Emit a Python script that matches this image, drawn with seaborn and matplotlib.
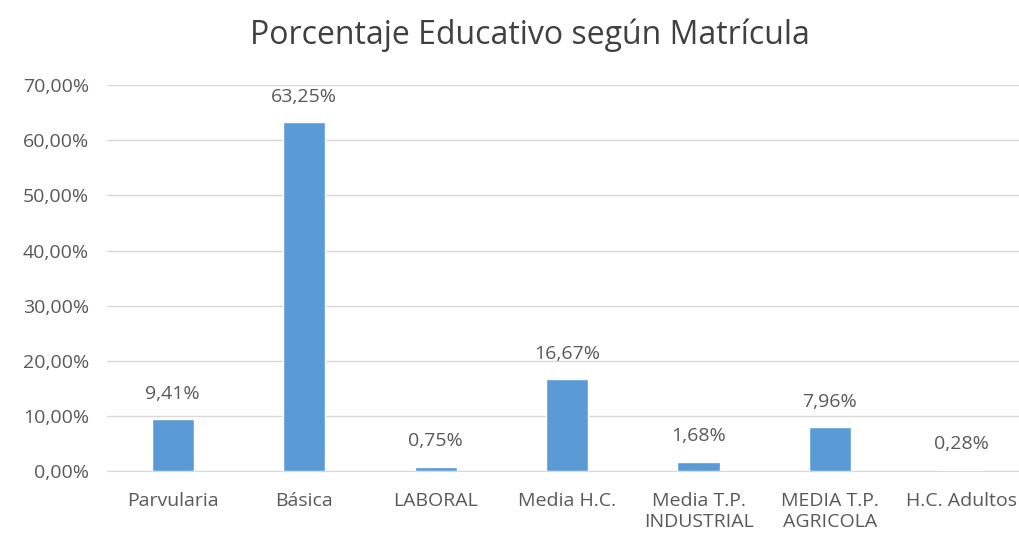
import pandas as pd
import matplotlib.pyplot as plt
import seaborn as sns
from matplotlib.ticker import FuncFormatter

categorias = ["Parvularia", "Básica", "LABORAL", "Media H.C.",
              "Media T.P.\nINDUSTRIAL", "MEDIA T.P.\nAGRICOLA", "H.C. Adultos"]
porcentajes = [9.41, 63.25, 0.75, 16.67, 1.68, 7.96, 0.28]

data = pd.DataFrame({"cat": categorias, "pct": porcentajes})

sns.set_style("white")
plt.rcParams['font.family'] = ['Open Sans', 'DejaVu Sans']
gris = "#595959"

f = plt.figure(figsize=(10.19, 5.39), dpi=100)
ax = f.add_axes([0.105, 0.126, 0.903, 0.716])
sns.barplot(x="cat", y="pct", data=data, color="#5B9BD5", width=0.32,
            saturation=1, ax=ax, zorder=3)

ax.set_ylim(0, 70)
ax.set_yticks(range(0, 71, 10))
ax.yaxis.set_major_formatter(FuncFormatter(lambda v, p: f"{v:.2f}%".replace(".", ",")))
ax.grid(axis="y", color="#D9D9D9", lw=1, zorder=0)
ax.set_xlabel("")
ax.set_ylabel("")
for s in ["top", "right", "left"]:
    ax.spines[s].set_visible(False)
ax.spines["bottom"].set_color("#D9D9D9")
ax.tick_params(axis="both", length=0, labelsize=14, colors=gris)
ax.tick_params(axis="x", pad=15)
ax.tick_params(axis="y", pad=13)
for t in ax.get_xticklabels():
    t.set_linespacing(1.25)

ax.bar_label(ax.containers[0], labels=[f"{v:.2f}%".replace(".", ",") for v in porcentajes],
             padding=12, fontsize=14, color=gris)

f.text(0.52, 0.935, "Porcentaje Educativo según Matrícula", ha="center", va="center",
       fontsize=23, color="#404040")

f.savefig("out.png", dpi=100)
